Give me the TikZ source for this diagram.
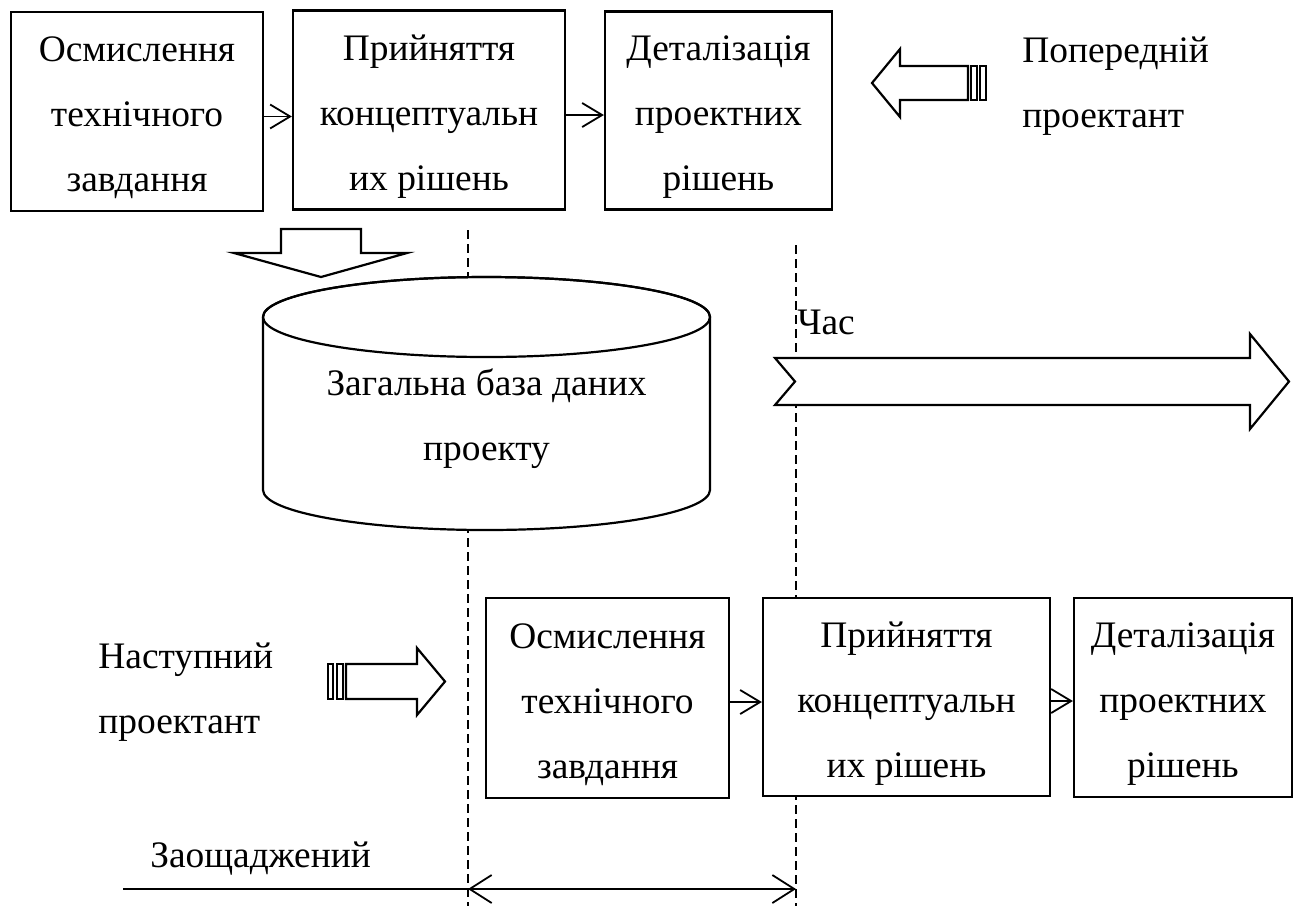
\documentclass[tikz,border=0pt]{standalone}
\usepackage{fontspec}
\setmainfont{Liberation Serif}
\usetikzlibrary{arrows.meta}
% taller first line, so the three text lines sit a little lower in each box
\newcommand\stagestrut{\rule{0pt}{19pt}}

\begin{document}
\begin{tikzpicture}[x=0.5pt,y=-0.5pt,
  every node/.style={font=\fontsize{18.7}{32.5}\selectfont},
  stage/.style={draw, line width=1.1pt, fill=white, align=center, inner sep=0pt},
  conn/.style={line width=0.9pt, -{Straight Barb[length=10pt,width=12pt,line width=0.9pt]}},
  span/.style={line width=0.7pt, {Straight Barb[length=11pt,width=14pt,line width=0.9pt]}-{Straight Barb[length=11pt,width=14pt,line width=0.9pt]}},
  baseline/.style={line width=0.6pt},
  guide/.style={line width=0.9pt, dash pattern=on 4.5pt off 2.5pt},
  blockarrow/.style={draw, line width=1.1pt, fill=white, line join=miter},
  caption/.style={inner sep=0pt, align=left, anchor=west}
]
\useasboundingbox (0,0) rectangle (1294,906);

% vertical time guides (behind everything else)
\coordinate (g1top) at (468,230);
\coordinate (g1bot) at (468,906);
\coordinate (g2top) at (796,245);
\coordinate (g2bot) at (796,906);
\draw[guide] (g1top) -- (g1bot);
\draw[guide] (g2top) -- (g2bot);

% first designer: three stages
\node[stage, minimum width=126pt, minimum height=99.5pt] (a1) at (137,111.5)
  {\stagestrut Осмислення\\технічного\\завдання};
\node[stage, minimum width=136pt, minimum height=99.5pt] (a2) at (429,110)
  {\stagestrut Прийняття\\концептуальн\\их рішень};
\node[stage, minimum width=113.5pt, minimum height=99pt] (a3) at (718.5,110.5)
  {\stagestrut Деталізація\\проектних\\рішень};
\draw[conn] ([yshift=-2.5pt]a1.east) -- ([yshift=-2.5pt]a1.east -| a2.west);
\draw[conn] ([yshift=-2.5pt]a2.east -| a2.east) -- ([yshift=-2.5pt]a2.east -| a3.west);

% previous designer arrow (striped, pointing left)
\draw[blockarrow] (968,66) -- (900,66) -- (900,49) -- (872,83) -- (900,117)
  -- (900,100) -- (968,100) -- cycle;
\draw[blockarrow] (971,66) rectangle (977,100);
\draw[blockarrow] (980,66) rectangle (986,100);
\node[caption] (prev) at (1022,86) {Попередній\\проектант};

% flow into the database
\draw[blockarrow] (281,229) -- (361,229) -- (361,253) -- (407,253) -- (321,277)
  -- (234,253) -- (281,253) -- cycle;

% common project database (cylinder)
\draw[line width=1.1pt, fill=white]
  (263,317) -- (263,490)
  arc[start angle=180, end angle=0, x radius=223.5, y radius=40]
  -- (710,317)
  arc[start angle=0, end angle=-180, x radius=223.5, y radius=40] -- cycle;
\draw[line width=1.1pt] (486.5,317) ellipse[x radius=223.5, y radius=40];
\node[align=center, inner sep=0pt] (db) at (486.5,419) {Загальна база даних\\проекту};

% time arrow
\draw[blockarrow] (775,358) -- (1250,358) -- (1250,334) -- (1289,381.5)
  -- (1250,429) -- (1250,405) -- (775,405) -- (795,381.5) -- cycle;
\node (time) at (826,322) {Час};

% next designer arrow (striped, pointing right)
\draw[blockarrow] (328,664) rectangle (333,699);
\draw[blockarrow] (337,664) rectangle (343,699);
\draw[blockarrow] (346,664) -- (417,664) -- (417,648) -- (445,681.5) -- (417,715)
  -- (417,699) -- (346,699) -- cycle;
\node[caption] (next) at (98,692) {Наступний\\проектант};

% second designer: three stages
\node[stage, minimum width=121.5pt, minimum height=100pt] (b1) at (607.5,698)
  {\stagestrut Осмислення\\технічного\\завдання};
\node[stage, minimum width=143.5pt, minimum height=99pt] (b2) at (906.5,697)
  {\stagestrut Прийняття\\концептуальн\\их рішень};
\node[stage, minimum width=109pt, minimum height=99.5pt] (b3) at (1183,697.5)
  {\stagestrut Деталізація\\проектних\\рішень};
\draw[conn] ([yshift=-2pt]b1.east) -- ([yshift=-2pt]b1.east -| b2.west);
\draw[conn] ([yshift=-2pt]b2.east) -- ([yshift=-2pt]b2.east -| b3.west);

% saved time
\coordinate (s0) at (123,889);
\coordinate (s1) at (468,889);
\coordinate (s2) at (796,889);
\draw[baseline] (s0) -- (s1);
\draw[span] (s1) -- (s2);
\node[caption] (saved) at (150,859) {Заощаджений};
\end{tikzpicture}
\end{document}
